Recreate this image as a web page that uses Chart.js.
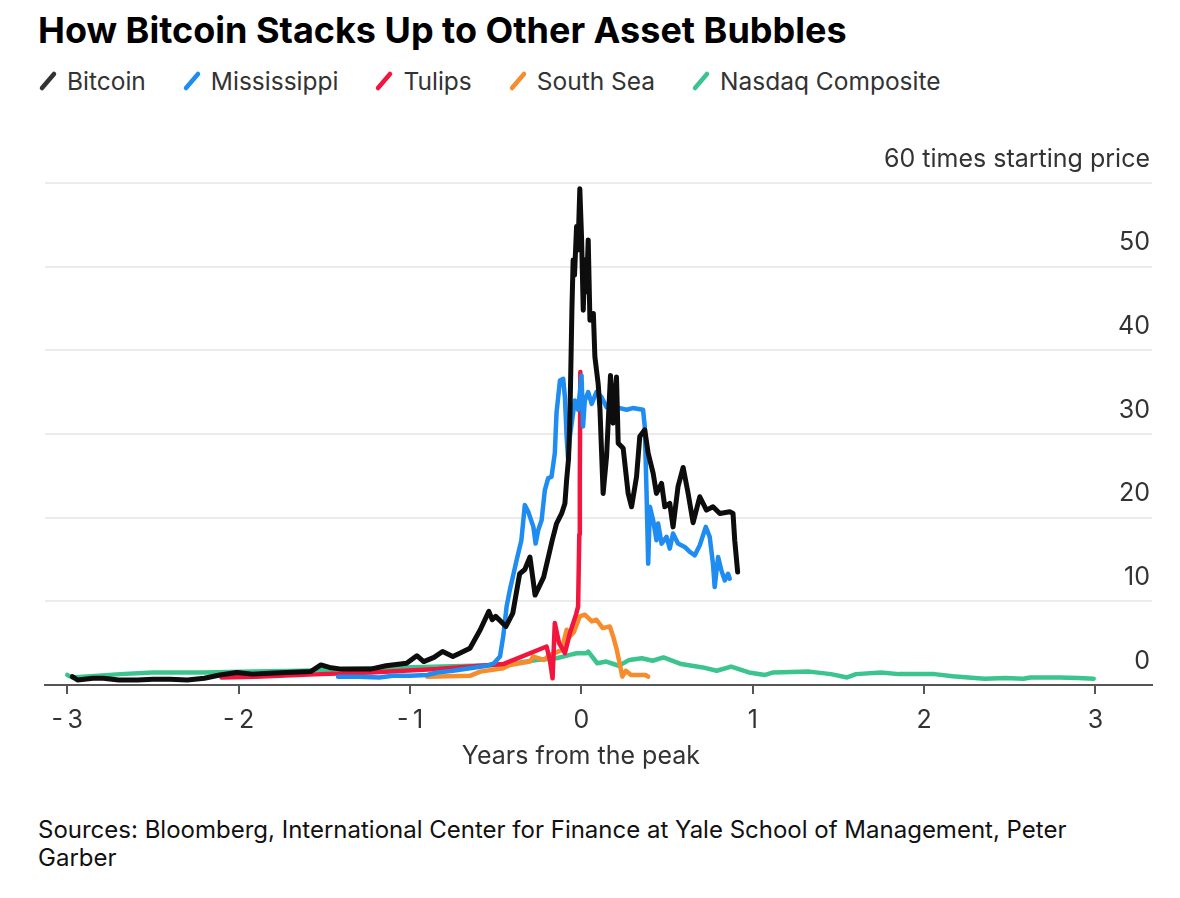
<!DOCTYPE html>
<html>
<head>
<meta charset="utf-8">
<script src="https://cdn.jsdelivr.net/npm/chart.js@4.4.1/dist/chart.umd.min.js"></script>
<style>
  body { margin: 0; background: #fff; font-family: Inter, "Liberation Sans", Arial, sans-serif; }
  #wrap { position: relative; width: 1180px; height: 898px; overflow: hidden; }
  h1 { position: absolute; left: 38px; top: 9px; margin: 0; font-size: 36px; line-height: 42px; font-weight: 700; color: #000; letter-spacing: 0px; }
  #legend { position: absolute; left: 38px; top: 66px; font-size: 24.5px; line-height: 30px; color: #333; white-space: nowrap; display: flex; }
  .item { display: flex; align-items: center; margin-right: 36px; }
  .item svg { margin-right: 9px; }
  #chart { position: absolute; left: 0; top: 110px; }
  #source { position: absolute; left: 38px; top: 816px; width: 1100px; font-size: 24px; line-height: 28px; color: #111; }
</style>
</head>
<body>
<div id="wrap">
  <h1>How Bitcoin Stacks Up to Other Asset Bubbles</h1>
  <div id="legend"></div>
  <canvas id="chart" width="1180" height="680"></canvas>
  <div id="source">Sources: Bloomberg, International Center for Finance at Yale School of Management, Peter Garber</div>
</div>
<script>
// years from the peak / multiple of starting price
var btcYears = [-2.97, -2.94, -2.85, -2.79, -2.7, -2.59, -2.5, -2.4, -2.3, -2.2, -2.11, -2.01, -1.92, -1.82, -1.72, -1.58, -1.52, -1.47, -1.4, -1.33, -1.23, -1.14, -1.02, -0.96, -0.92, -0.86, -0.81, -0.75, -0.71, -0.65, -0.62, -0.59, -0.54, -0.52, -0.5, -0.47, -0.44, -0.4, -0.36, -0.33, -0.3, -0.27, -0.22, -0.17, -0.145, -0.115, -0.096, -0.086, -0.075, -0.067, -0.055, -0.048, -0.04, -0.028, -0.02, -0.009, 0.001, 0.011, 0.02, 0.03, 0.04, 0.05, 0.07, 0.079, 0.098, 0.108, 0.127, 0.147, 0.17, 0.185, 0.205, 0.215, 0.244, 0.273, 0.293, 0.322, 0.341, 0.37, 0.39, 0.419, 0.438, 0.468, 0.487, 0.516, 0.535, 0.564, 0.594, 0.623, 0.652, 0.691, 0.73, 0.768, 0.808, 0.866, 0.885, 0.895, 0.912];
var btcPrice = [1.0, 0.6, 0.8, 0.8, 0.6, 0.6, 0.7, 0.7, 0.6, 0.8, 1.2, 1.5, 1.3, 1.4, 1.5, 1.6, 2.4, 2.1, 1.9, 1.9, 1.9, 2.3, 2.6, 3.5, 2.8, 3.3, 4.0, 3.4, 3.8, 4.4, 5.5, 6.6, 8.8, 7.8, 8.2, 7.6, 7.0, 8.6, 13.3, 13.8, 15.3, 10.75, 12.9, 17.3, 19.3, 20.5, 21.7, 24.5, 27, 31.7, 45, 50.8, 49, 54.8, 52, 59.3, 53.6, 44.8, 50.8, 47, 53.2, 43.6, 44.4, 39.2, 36, 33.2, 22.9, 27.3, 37.0, 31.3, 36.8, 28.9, 28.3, 22.9, 21.3, 24.9, 29.7, 30.5, 27.7, 25.3, 22.9, 24.1, 21.3, 21.7, 18.9, 23.7, 26.0, 22.9, 19.4, 22.5, 20.9, 21.3, 20.5, 20.7, 20.5, 17.3, 13.5];

var missYears = [-1.42, -1.3, -1.18, -1.1, -1.0, -0.9, -0.84, -0.75, -0.65, -0.55, -0.51, -0.475, -0.456, -0.436, -0.417, -0.4, -0.378, -0.35, -0.33, -0.31, -0.28, -0.267, -0.252, -0.232, -0.213, -0.194, -0.174, -0.155, -0.145, -0.125, -0.106, -0.096, -0.086, -0.077, -0.067, -0.038, -0.019, 0.001, 0.01, 0.02, 0.04, 0.06, 0.088, 0.118, 0.147, 0.224, 0.264, 0.3, 0.36, 0.37, 0.38, 0.39, 0.4, 0.419, 0.438, 0.448, 0.468, 0.497, 0.516, 0.535, 0.564, 0.603, 0.633, 0.662, 0.691, 0.726, 0.749, 0.768, 0.778, 0.798, 0.817, 0.837, 0.856, 0.866];
var missPrice = [1.0, 1.0, 0.9, 1.1, 1.1, 1.2, 1.5, 1.7, 2.0, 2.3, 2.6, 3.4, 5.8, 9.4, 11.4, 12.9, 14.9, 17.3, 21.5, 20.7, 18.9, 16.9, 18.5, 19.7, 23.3, 24.7, 24.9, 27.7, 32.5, 36.4, 36.6, 34.4, 29.7, 26.9, 29.7, 34, 32.9, 37, 30.9, 34, 35, 33.6, 35, 34.4, 33.2, 33.1, 32.9, 33.1, 32.9, 30.9, 23.3, 14.5, 21.3, 19.7, 17.3, 19.3, 16.9, 17.7, 16.3, 18.1, 16.9, 16.5, 15.9, 15.5, 16.7, 18.9, 17.7, 14.5, 11.7, 15.3, 13.7, 12.5, 13.3, 12.7];

var tulipYears = [-2.1, -1.9, -1.52, -1.23, -0.84, -0.456, -0.203, -0.184, -0.168, -0.155, -0.13, -0.096, -0.067, -0.03, -0.019, -0.012, -0.009, -0.006];
var tulipPrice = [0.9, 1.0, 1.3, 1.5, 1.9, 2.5, 4.6, 3.0, 0.8, 7.4, 5.0, 3.8, 6.2, 8.5, 9.4, 18, 24.5, 37.4];

var southSeaYears = [-0.9, -0.65, -0.59, -0.456, -0.417, -0.3, -0.28, -0.22, -0.184, -0.155, -0.115, -0.086, -0.067, -0.044, -0.009, 0.02, 0.061, 0.088, 0.125, 0.166, 0.187, 0.207, 0.229, 0.239, 0.26, 0.29, 0.374, 0.39];
var southSeaPrice = [1.0, 1.1, 1.6, 2.0, 2.4, 2.8, 3.4, 3.0, 3.6, 3.8, 4.2, 6.6, 5.8, 6.3, 8.2, 8.4, 7.6, 7.8, 6.8, 7.0, 5.7, 4.2, 2.0, 1.0, 1.7, 1.2, 1.2, 1.0];

var nasdaqYears = [-3.0, -2.97, -2.69, -2.5, -2.2, -1.92, -1.62, -1.33, -1.04, -0.81, -0.456, -0.26, -0.145, -0.067, -0.028, 0.03, 0.04, 0.093, 0.145, 0.218, 0.28, 0.353, 0.416, 0.479, 0.583, 0.708, 0.79, 0.874, 0.978, 1.072, 1.12, 1.33, 1.457, 1.551, 1.603, 1.749, 1.853, 2.061, 2.166, 2.353, 2.476, 2.58, 2.62, 2.79, 2.9, 2.99];
var nasdaqPrice = [1.2, 0.9, 1.3, 1.5, 1.5, 1.6, 1.7, 1.9, 2.1, 2.2, 2.4, 3.0, 3.2, 3.6, 3.8, 3.8, 4.0, 2.6, 2.8, 2.3, 3.0, 3.2, 2.9, 3.3, 2.5, 2.1, 1.7, 2.2, 1.5, 1.2, 1.5, 1.6, 1.3, 0.9, 1.3, 1.5, 1.3, 1.3, 1.05, 0.75, 0.85, 0.75, 0.9, 0.9, 0.85, 0.75];

var seriesNames = ['Bitcoin', 'Mississippi', 'Tulips', 'South Sea', 'Nasdaq Composite'];
var seriesColors = ['#0d0d0d', '#1e8cf0', '#f2163f', '#f68c2b', '#3cc48f'];
var yTopLabel = '60 times starting price';
// trailing spaces nudge the centred axis title left, under the 0 tick like the original
var xTitle = 'Years from the peak\u00a0\u00a0\u00a0\u00a0\u00a0';

var fontFamily = 'Inter, "Liberation Sans", Arial, sans-serif';

function pts(xs, ys) {
    return xs.map(function (x, i) { return { x: x, y: ys[i] }; });
}

// html legend with slash marks
var legend = document.getElementById('legend');
seriesNames.forEach(function (name, i) {
    var item = document.createElement('div');
    item.className = 'item';
    item.innerHTML = '<svg width="20" height="22"><line x1="4" y1="18" x2="16" y2="4" stroke="' +
        (i === 0 ? '#333' : seriesColors[i]) + '" stroke-width="4.5" stroke-linecap="round"/></svg>' +
        '<span>' + name + '</span>';
    legend.appendChild(item);
});

var allData = [pts(btcYears, btcPrice), pts(missYears, missPrice), pts(tulipYears, tulipPrice),
    pts(southSeaYears, southSeaPrice), pts(nasdaqYears, nasdaqPrice)];

var datasets = seriesNames.map(function (name, i) {
    return {
        label: name,
        data: allData[i],
        borderColor: seriesColors[i],
        borderWidth: i === 0 ? 5 : 4.5
    };
});

var ctx = document.getElementById('chart').getContext('2d');
window.bubbleChart = new Chart(ctx, {
    type: 'line',
    data: { datasets: datasets },
    options: {
        responsive: false,
        animation: false,
        elements: {
            point: { radius: 0 },
            line: { tension: 0, borderJoinStyle: 'round', borderCapStyle: 'round' }
        },
        layout: { padding: { left: 45, right: 28, top: 73, bottom: 0 } },
        plugins: {
            legend: { display: false },
            tooltip: { enabled: false }
        },
        scales: {
            x: {
                type: 'linear',
                min: -3.13,
                max: 3.33,
                afterFit: function (s) { s.height = 105; },
                border: { display: true, color: '#555', width: 2 },
                grid: { drawOnChartArea: false, drawTicks: true, tickLength: 9, color: '#555', lineWidth: 2 },
                ticks: {
                    stepSize: 1,
                    includeBounds: false,
                    padding: 11,
                    color: '#333',
                    font: { family: fontFamily, size: 25 },
                    callback: function (v) { return v < 0 ? '-\u2009' + Math.abs(v) : String(v); }
                },
                title: {
                    display: true,
                    text: xTitle,
                    color: '#333',
                    font: { family: fontFamily, size: 25 },
                    padding: { top: 0, bottom: 19 }
                }
            },
            y: {
                position: 'right',
                min: 0,
                max: 60,
                afterFit: function (s) { s.width = 0; },
                border: { display: false },
                grid: {
                    drawTicks: false,
                    lineWidth: 2,
                    color: function (c) { return c.tick && c.tick.value === 0 ? 'rgba(0,0,0,0)' : '#ebebeb'; }
                },
                ticks: {
                    stepSize: 10,
                    mirror: true,
                    padding: -2,
                    labelOffset: -24,
                    color: '#333',
                    font: { family: fontFamily, size: 25 },
                    callback: function (v) { return v === 60 ? yTopLabel : String(v); }
                }
            }
        }
    }
});
</script>
</body>
</html>
